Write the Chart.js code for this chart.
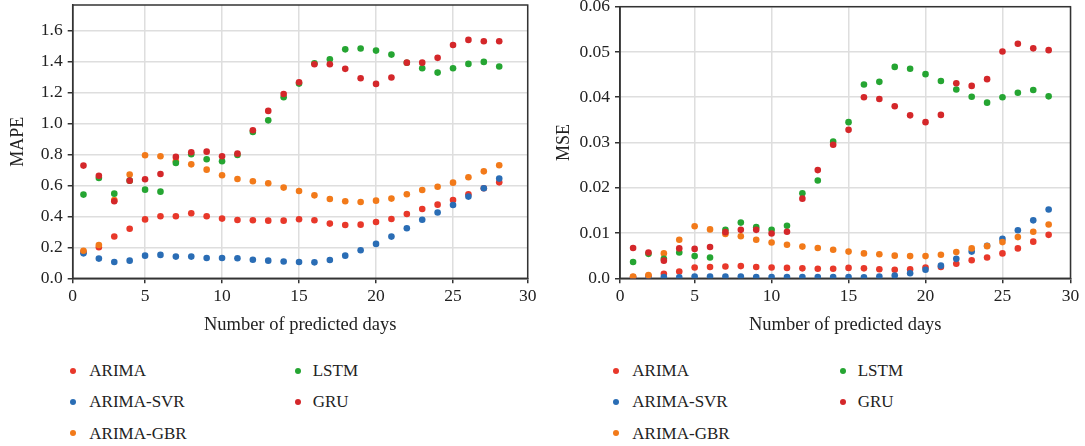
<!DOCTYPE html>
<html>
<head>
<meta charset="utf-8">
<script src="https://cdn.jsdelivr.net/npm/chart.js@4.4.0/dist/chart.umd.min.js"></script>
<style>
  body { margin: 0; background: #fff; width: 1085px; height: 446px; position: relative; overflow: hidden; font-family: 'Liberation Serif', serif; }
  canvas { position: absolute; top: 0; }
  #mapeChart { left: 0; }
  #mseChart { left: 545px; }
  .legend-text { position: absolute; font-size: 17px; line-height: 20px; color: #222; white-space: nowrap; }
  .legend-dot { position: absolute; width: 6px; height: 6px; border-radius: 50%; }
</style>
</head>
<body>
<canvas id="mapeChart" width="545" height="345"></canvas>
<canvas id="mseChart" width="540" height="345"></canvas>
<div id="legends"></div>
<script>
const days = [1, 2, 3, 4, 5, 6, 7, 8, 9, 10, 11, 12, 13, 14, 15, 16, 17, 18, 19, 20, 21, 22, 23, 24, 25, 26, 27, 28];
const seriesNames = ['ARIMA', 'ARIMA-SVR', 'ARIMA-GBR', 'LSTM', 'GRU'];
const seriesColors = ['#e8382a', '#2a6db5', '#f27a1a', '#25a532', '#d4272a'];

// MAPE (left panel)
const mapeArima = [0.17, 0.20, 0.27, 0.32, 0.38, 0.40, 0.40, 0.42, 0.40, 0.385, 0.376, 0.374, 0.372, 0.372, 0.381, 0.374, 0.353, 0.344, 0.346, 0.363, 0.383, 0.415, 0.447, 0.475, 0.505, 0.542, 0.581, 0.619];
const mapeSvr = [0.161, 0.127, 0.105, 0.114, 0.146, 0.151, 0.140, 0.140, 0.131, 0.131, 0.129, 0.120, 0.114, 0.108, 0.105, 0.103, 0.118, 0.146, 0.181, 0.222, 0.269, 0.323, 0.378, 0.424, 0.473, 0.527, 0.581, 0.643];
const mapeGbr = [0.178, 0.215, 0.505, 0.669, 0.794, 0.787, 0.755, 0.735, 0.701, 0.665, 0.641, 0.626, 0.613, 0.585, 0.563, 0.535, 0.512, 0.497, 0.492, 0.501, 0.514, 0.542, 0.570, 0.591, 0.617, 0.652, 0.690, 0.729];
const mapeLstm = [0.540, 0.647, 0.546, 0.63, 0.572, 0.559, 0.744, 0.80, 0.768, 0.755, 0.796, 0.944, 1.019, 1.168, 1.256, 1.387, 1.413, 1.477, 1.482, 1.469, 1.443, 1.39, 1.355, 1.327, 1.355, 1.383, 1.396, 1.366];
const mapeGru = [0.727, 0.662, 0.497, 0.630, 0.639, 0.673, 0.783, 0.813, 0.817, 0.787, 0.804, 0.955, 1.080, 1.189, 1.265, 1.381, 1.381, 1.351, 1.290, 1.254, 1.295, 1.391, 1.391, 1.422, 1.505, 1.538, 1.529, 1.529];

// MSE (right panel)
const mseArima = [0.0003, 0.0005, 0.0010, 0.0015, 0.0024, 0.0025, 0.0026, 0.0027, 0.0025, 0.0024, 0.0023, 0.0022, 0.0021, 0.0021, 0.0023, 0.0022, 0.0020, 0.0019, 0.0020, 0.0024, 0.0025, 0.0032, 0.0040, 0.0046, 0.0055, 0.0066, 0.0081, 0.0096];
const mseSvr = [0.0001, 0.0001, 0.0003, 0.0002, 0.0004, 0.0004, 0.0004, 0.0004, 0.0003, 0.0003, 0.0003, 0.0003, 0.0003, 0.0003, 0.0003, 0.0002, 0.0004, 0.0006, 0.0011, 0.0019, 0.0028, 0.0043, 0.0059, 0.0072, 0.0087, 0.0106, 0.0128, 0.0152];
const mseGbr = [0.0004, 0.0007, 0.0055, 0.0085, 0.0115, 0.0108, 0.0098, 0.0093, 0.0085, 0.0079, 0.0074, 0.0070, 0.0067, 0.0063, 0.0059, 0.0055, 0.0053, 0.0050, 0.0049, 0.0049, 0.0052, 0.0058, 0.0066, 0.0071, 0.0080, 0.0091, 0.0103, 0.0119];
const mseLstm = [0.0036, 0.0054, 0.0043, 0.0057, 0.0049, 0.0046, 0.0107, 0.0123, 0.0113, 0.0107, 0.0116, 0.0188, 0.0216, 0.0302, 0.0345, 0.0428, 0.0434, 0.0467, 0.0463, 0.0451, 0.0436, 0.0417, 0.0401, 0.0388, 0.0400, 0.0410, 0.0416, 0.0402];
const mseGru = [0.0067, 0.0057, 0.0039, 0.0066, 0.0065, 0.0069, 0.0102, 0.0107, 0.0107, 0.0099, 0.0103, 0.0176, 0.0239, 0.0295, 0.0328, 0.0400, 0.0396, 0.0380, 0.0360, 0.0345, 0.0361, 0.0431, 0.0425, 0.0440, 0.0501, 0.0518, 0.0508, 0.0504];

const xTickLabels = ['0', '5', '10', '15', '20', '25', '30'];
const mapeTicks = [0, 0.2, 0.4, 0.6, 0.8, 1.0, 1.2, 1.4, 1.6];
const mseTicks = [0, 0.01, 0.02, 0.03, 0.04, 0.05, 0.06];

const ink = '#222';
const gridColor = '#dedede';
Chart.defaults.font.family = "'Liberation Serif', serif";
Chart.defaults.font.size = 17.5;
Chart.defaults.color = ink;

// full box round the plot area
const frame = {
  id: 'frame',
  beforeDatasetsDraw(chart) {
    const { ctx, chartArea: a } = chart;
    ctx.save();
    ctx.strokeStyle = '#333';
    ctx.lineWidth = 1.5;
    ctx.strokeRect(a.left, a.top, a.right - a.left, a.bottom - a.top);
    ctx.restore();
  }
};

function makeChart(id, values, cfg) {
  return new Chart(document.getElementById(id), {
    type: 'scatter',
    data: {
      datasets: seriesNames.map((name, i) => ({
        label: name,
        data: days.map((d, j) => ({ x: d, y: values[i][j] })),
        backgroundColor: seriesColors[i],
        borderWidth: 0,
        pointRadius: 3.3,
        order: seriesNames.length - i
      }))
    },
    options: {
      responsive: false,
      animation: false,
      events: [],
      layout: { padding: { top: cfg.padTop, right: cfg.padRight, left: 0, bottom: 0 } },
      plugins: { legend: { display: false }, tooltip: { enabled: false } },
      scales: {
        x: {
          type: 'linear',
          min: cfg.xMin,
          max: cfg.xMax,
          afterBuildTicks: ax => { ax.ticks = cfg.xTickPos.map(v => ({ value: v })); },
          afterFit: s => { s.height = 345 - cfg.bottom; s.paddingLeft = 0; s.paddingRight = 0; },
          ticks: { autoSkip: false, maxRotation: 0, padding: 3, callback: (v, i) => xTickLabels[i] },
          grid: { color: gridColor, lineWidth: 1.5, tickLength: 5, tickColor: '#333' },
          border: { color: '#333', width: 1.5 },
          title: { display: true, text: 'Number of predicted days', font: { size: 18.5 }, padding: { top: 0, bottom: 9 } }
        },
        y: {
          min: 0,
          max: cfg.yMax,
          afterBuildTicks: ax => { ax.ticks = cfg.yTicks.map(v => ({ value: v })); },
          afterFit: s => { s.width = cfg.axisWidth; s.paddingTop = 0; s.paddingBottom = 0; },
          ticks: { padding: 5, callback: cfg.yLabel },
          grid: { color: gridColor, lineWidth: 1.5, tickLength: 5, tickColor: '#333' },
          border: { color: '#333', width: 1.5 },
          title: { display: true, text: cfg.yTitle, font: { size: 18 }, padding: { top: cfg.titlePad, bottom: 0 } }
        }
      }
    },
    plugins: [frame]
  });
}

makeChart('mapeChart', [mapeArima, mapeSvr, mapeGbr, mapeLstm, mapeGru], {
  padTop: 5, padRight: 17.3, bottom: 278.3, axisWidth: 72.7,
  xMin: 0.3, xMax: 29.85, xTickPos: [0.3, 5, 10, 15, 20, 25, 29.85],
  yMax: 1.763, yTicks: mapeTicks, yLabel: v => v.toFixed(1),
  yTitle: 'MAPE', titlePad: 7
});

makeChart('mseChart', [mseArima, mseSvr, mseGbr, mseLstm, mseGru], {
  padTop: 6.7, padRight: 14.5, bottom: 278.3, axisWidth: 75,
  xMin: 0.15, xMax: 29.42, xTickPos: [0.15, 5, 10, 15, 20, 25, 29.42],
  yMax: 0.06, yTicks: mseTicks, yLabel: v => (v === 0 ? '0.0' : v.toFixed(2)),
  yTitle: 'MSE', titlePad: 8.5
});

// two-column legends under each panel
const legendRows = [370.7, 401.7, 433];
const legendCols = [
  { dots: [72.7, 297.7], texts: [89.3, 312.7] },
  { dots: [615.7, 842.7], texts: [632.3, 857.7] }
];
const holder = document.getElementById('legends');
legendCols.forEach(col => {
  seriesNames.forEach((name, i) => {
    const c = i < 3 ? 0 : 1;
    const y = legendRows[i < 3 ? i : i - 3];
    const dot = document.createElement('span');
    dot.className = 'legend-dot';
    dot.style.background = seriesColors[i];
    dot.style.left = (col.dots[c] - 3) + 'px';
    dot.style.top = (y - 3) + 'px';
    holder.appendChild(dot);
    const txt = document.createElement('span');
    txt.className = 'legend-text';
    txt.textContent = name;
    txt.style.left = col.texts[c] + 'px';
    txt.style.top = (y - 9.5) + 'px';
    holder.appendChild(txt);
  });
});
</script>
</body>
</html>
